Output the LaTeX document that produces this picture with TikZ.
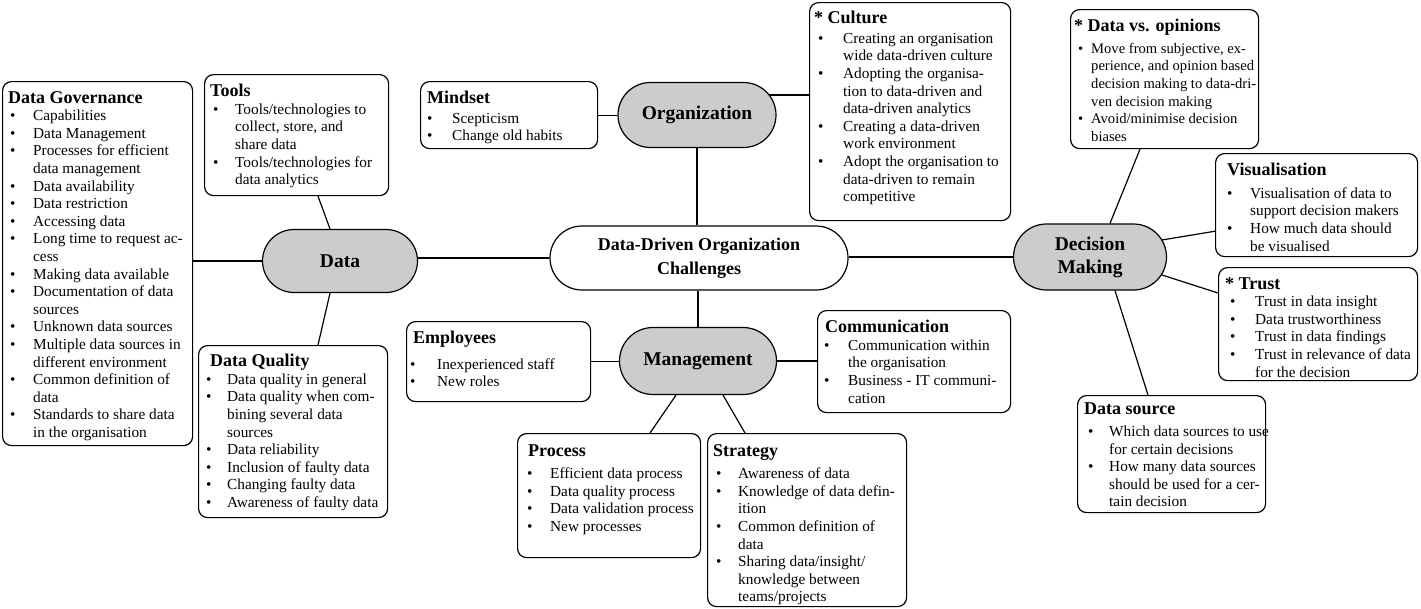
\documentclass[tikz,border=0pt]{standalone}
\usepackage{fontspec}
\setmainfont{Liberation Serif}
\usetikzlibrary{shapes.misc,calc}
\newlength\bulo
\newlength\bulw
\newcommand{\bi}[1]{\makebox[\bulw][l]{\hspace*{\bulo}\textbullet}#1}
\newcommand{\ci}[1]{\hspace*{\bulw}#1}
\newcommand{\ttl}[1]{{\fontsize{18}{20}\selectfont\bfseries #1}}
\tikzset{
  box/.style={draw, line width=1.2pt, rounded corners=9pt, anchor=north west, inner sep=0pt},
  txt/.style={anchor=north west, inner sep=0pt, align=left, font=\fontsize{15.3}{17.6}\selectfont},
  bul/.style 2 args={execute at begin node={\setlength\bulo{#1}\setlength\bulw{#2}}},
  pill/.style={draw, line width=1.2pt, rounded rectangle, fill=black!20, align=center, inner sep=0pt,
    font=\fontsize{19.5}{23}\selectfont\bfseries},
  conn/.style={line width=1.2pt}
}
\begin{document}
\begin{tikzpicture}[x=1pt,y=-1pt]
\useasboundingbox (0,0) rectangle (1421,608);
% pills
\node[pill, fill=white, minimum width=298, minimum height=64, font=\fontsize{18}{24}\selectfont\bfseries] (central) at (699,258) {Data-Driven Organization\\Challenges};
\node[pill, minimum width=155, minimum height=63] (data) at (340,261) {Data};
\node[pill, minimum width=158, minimum height=65] (org) at (697,115) {Organization};
\node[pill, minimum width=157, minimum height=67] (mgmt) at (698,361) {Management};
\node[pill, minimum width=153, minimum height=66] (dec) at (1090,257) {Decision\\Making};
% boxes
\node[box, minimum width=190, minimum height=364] (dgov) at (2,81) {};
\node[box, minimum width=184, minimum height=121] (tools) at (204,74) {};
\node[box, minimum width=189, minimum height=172] (dq) at (198,345) {};
\node[box, minimum width=177, minimum height=67] (mind) at (420,81) {};
\node[box, minimum width=201, minimum height=218] (cult) at (809,2) {};
\node[box, minimum width=188, minimum height=139] (dvo) at (1070,9) {};
\node[box, minimum width=202, minimum height=103] (vis) at (1215,153) {};
\node[box, minimum width=199, minimum height=113] (trust) at (1218,267) {};
\node[box, minimum width=188, minimum height=117] (dsrc) at (1077,395) {};
\node[box, minimum width=184, minimum height=80] (emp) at (406,321) {};
\node[box, minimum width=193, minimum height=102] (comm) at (817,310) {};
\node[box, minimum width=183, minimum height=124] (proc) at (517,433) {};
\node[box, minimum width=199, minimum height=173] (strat) at (707,433) {};
% texts
\node[txt, bul={2pt}{25pt}] (dgovt) at ($(dgov.north west)+(6,10)$) {\ttl{Data Governance}\\
\bi{Capabilities}\\
\bi{Data Management}\\
\bi{Processes for efficient}\\
\ci{data management}\\
\bi{Data availability}\\
\bi{Data restriction}\\
\bi{Accessing data}\\
\bi{Long time to request ac-}\\
\ci{cess}\\
\bi{Making data available}\\
\bi{Documentation of data}\\
\ci{sources}\\
\bi{Unknown data sources}\\
\bi{Multiple data sources in}\\
\ci{different environment}\\
\bi{Common definition of}\\
\ci{data}\\
\bi{Standards to share data}\\
\ci{in the organisation}};
\node[txt, bul={3pt}{25pt}] (toolst) at ($(tools.north west)+(6,10)$) {\ttl{Tools}\\
\bi{Tools/technologies to}\\
\ci{collect, store, and}\\
\ci{share data}\\
\bi{Tools/technologies for}\\
\ci{data analytics}};
\node[txt, bul={-4pt}{17pt}] (dqt) at ($(dq.north west)+(12,9)$) {\ttl{Data Quality}\\
\bi{Data quality in general}\\
\bi{Data quality when com-}\\
\ci{bining several data}\\
\ci{sources}\\
\bi{Data reliability}\\
\bi{Inclusion of faulty data}\\
\bi{Changing faulty data}\\
\bi{Awareness of faulty data}};
\node[txt, bul={0pt}{25pt}] (mindt) at ($(mind.north west)+(7,10)$) {\ttl{Mindset}\\[2pt]
\bi{Scepticism}\\
\bi{Change old habits}};
\node[txt, bul={4pt}{29pt}] (cultt) at ($(cult.north west)+(5,9)$) {\ttl{* Culture}\\[2pt]
\bi{Creating an organisation}\\
\ci{wide data-driven culture}\\
\bi{Adopting the organisa-}\\
\ci{tion to data-driven and}\\
\ci{data-driven analytics}\\
\bi{Creating a data-driven}\\
\ci{work environment}\\
\bi{Adopt the organisation to}\\
\ci{data-driven to remain}\\
\ci{competitive}};
\node[txt, bul={4pt}{17pt}, font=\fontsize{14.6}{17.6}\selectfont] (dvot) at ($(dvo.north west)+(4,10)$) {\ttl{* Data vs. opinions}\\[4pt]
\bi{Move from subjective, ex-}\\
\ci{perience, and opinion based}\\
\ci{decision making to data-dri-}\\
\ci{ven decision making}\\
\bi{Avoid/minimise decision}\\
\ci{biases}};
\node[txt, bul={0pt}{23pt}] (vist) at ($(vis.north west)+(12,10)$) {\ttl{Visualisation}\\[5pt]
\bi{Visualisation of data to}\\
\ci{support decision makers}\\
\bi{How much data should}\\
\ci{be visualised}};
\node[txt, bul={5pt}{30pt}] (trustt) at ($(trust.north west)+(7,10)$) {\ttl{* Trust}\\
\bi{Trust in data insight}\\
\bi{Data trustworthiness}\\
\bi{Trust in data findings}\\
\bi{Trust in relevance of data}\\
\ci{for the decision}};
\node[txt, bul={4pt}{25pt}] (dsrct) at ($(dsrc.north west)+(7,8)$) {\ttl{Data source}\\[4pt]
\bi{Which data sources to use}\\
\ci{for certain decisions}\\
\bi{How many data sources}\\
\ci{should be used for a cer-}\\
\ci{tain decision}};
\node[txt, bul={-3pt}{24pt}] (empt) at ($(emp.north west)+(7,10)$) {\ttl{Employees}\\[8pt]
\bi{Inexperienced staff}\\
\bi{New roles}};
\node[txt, bul={-1pt}{23pt}] (commt) at ($(comm.north west)+(8,10)$) {\ttl{Communication}\\
\bi{Communication within}\\
\ci{the organisation}\\
\bi{Business - IT communi-}\\
\ci{cation}};
\node[txt, bul={-1pt}{22pt}] (proct) at ($(proc.north west)+(11,12)$) {\ttl{Process}\\[4pt]
\bi{Efficient data process}\\
\bi{Data quality process}\\
\bi{Data validation process}\\
\bi{New processes}};
\node[txt, bul={3pt}{25pt}] (stratt) at ($(strat.north west)+(6,11)$) {\ttl{Strategy}\\[5pt]
\bi{Awareness of data}\\
\bi{Knowledge of data defin-}\\
\ci{ition}\\
\bi{Common definition of}\\
\ci{data}\\
\bi{Sharing data/insight/}\\
\ci{knowledge between}\\
\ci{teams/projects}};
% connectors
\draw[conn] (data.west) -- (data.west -| dgov.east);
\draw[conn] ($(tools.south west)+(114,0)$) -- ($(data.north)+(-10,0)$);
\draw[conn] ($(dq.north west)+(120,0)$) -- ($(data.south)+(-10,0)$);
\draw[conn] (central.west) -- (central.west -| data.east);
\draw[conn] (org.south) -- (org.south |- central.north);
\draw[conn] (mind.east) -- (mind.east -| org.west);
\coordinate (oc) at ($(org.center)+(72,-20)$);
\draw[conn] (oc) -- (oc -| cult.west);
\draw[conn] (mgmt.north) -- (mgmt.north |- central.south);
\draw[conn] (emp.east) -- (emp.east -| mgmt.west);
\draw[conn] (mgmt.east) -- (mgmt.east -| comm.west);
\draw[conn] ($(mgmt.south)+(-22,0)$) -- ($(proc.north west)+(133,0)$);
\draw[conn] ($(mgmt.south)+(25,0)$) -- ($(strat.north west)+(38,0)$);
\draw[conn] (dec.west) -- (dec.west -| central.east);
\draw[conn] ($(dec.north)+(20,0)$) -- ($(dvo.south west)+(70,0)$);
\draw[conn] ($(dec.center)+(72,-17)$) -- ($(vis.south west)+(0,-26)$);
\draw[conn] ($(dec.center)+(72,18)$) -- ($(trust.north west)+(0,26)$);
\draw[conn] ($(dec.south)+(25,0)$) -- ($(dsrc.north west)+(71,0)$);
\end{tikzpicture}
\end{document}
